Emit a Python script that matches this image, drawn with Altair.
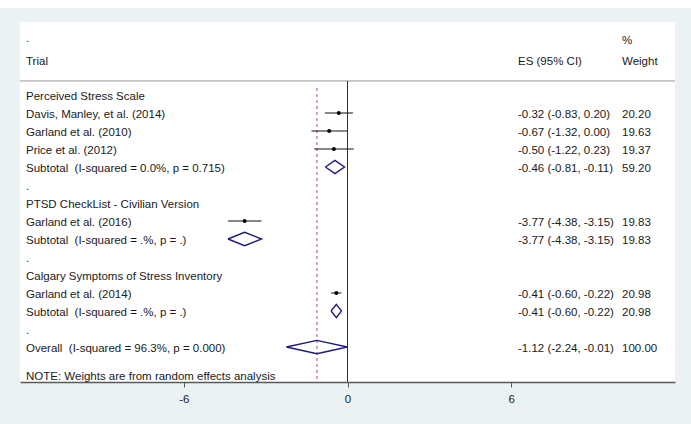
import altair as alt
import pandas as pd

NB = "\u00a0"
labels = [
    "Perceived Stress Scale",
    "Davis, Manley, et al. (2014)",
    "Garland et al. (2010)",
    "Price et al. (2012)",
    "Subtotal" + NB + " (I-squared = 0.0%, p = 0.715)",
    ".",
    "PTSD CheckList - Civilian Version",
    "Garland et al. (2016)",
    "Subtotal" + NB + " (I-squared = .%, p = .)",
    ".",
    "Calgary Symptoms of Stress Inventory",
    "Garland et al. (2014)",
    "Subtotal" + NB + " (I-squared = .%, p = .)",
    ".",
    "Overall" + NB + " (I-squared = 96.3%, p = 0.000)",
]
kinds = ["group", "study", "study", "study", "subtotal", "spacer",
         "group", "study", "subtotal", "spacer",
         "group", "study", "subtotal", "spacer", "overall"]
es = [None, -0.32, -0.67, -0.50, -0.46, None, None, -3.77, -3.77, None, None, -0.41, -0.41, None, -1.12]
lo = [None, -0.83, -1.32, -1.22, -0.81, None, None, -4.38, -4.38, None, None, -0.60, -0.60, None, -2.24]
hi = [None, 0.20, 0.00, 0.23, -0.11, None, None, -3.15, -3.15, None, None, -0.22, -0.22, None, -0.01]
weights = [None, 20.20, 19.63, 19.37, 59.20, None, None, 19.83, 19.83, None, None, 20.98, 20.98, None, 100.00]
tick_values = [-6, 0, 6]
note = "NOTE: Weights are from random effects analysis"

FONT = "Liberation Sans"
FS = 11.5
W, H = 655, 360

rows = []
for i, lab in enumerate(labels):
    e = es[i]
    rows.append({
        "row": i, "label": lab, "kind": kinds[i], "es": e, "lo": lo[i], "hi": hi[i],
        "es_txt": (f"{e:.2f} ({lo[i]:.2f}, {hi[i]:.2f})" if e is not None else ""),
        "w_txt": (f"{weights[i]:.2f}" if weights[i] is not None else ""),
    })
df = pd.DataFrame(rows)
studies = df[df.kind == "study"]
pooled = df[df.kind.isin(["subtotal", "overall"])]

dia = []
hh = 0.37
for _, r in pooled.iterrows():
    pts = [(r.lo, r.row), (r.es, r.row - hh), (r.hi, r.row), (r.es, r.row + hh), (r.lo, r.row)]
    for k, (x, y) in enumerate(pts):
        dia.append({"id": r.row, "ord": k, "x": x, "y": y})
dia = pd.DataFrame(dia)

yscale = alt.Scale(domain=[-4.056, 15.944], reverse=True, nice=False, zero=False)
xscale = alt.Scale(domain=[-12, 12], nice=False, zero=False)
X = lambda f: alt.X(f, type="quantitative", scale=xscale,
                    axis=alt.Axis(values=tick_values, grid=False, title=None, tickSize=5,
                                  domainColor="#5a5a5a", domainWidth=1.5, tickColor="#5a5a5a",
                                  labelFont=FONT, labelFontSize=FS, labelColor="#222",
                                  labelPadding=6, labelExpr="'' + datum.value"))
Y = lambda f: alt.Y(f, type="quantitative", scale=yscale, axis=None)

one = pd.DataFrame({"a": [0]})

top_white = alt.Chart(one).mark_rect(clip=False, color="white").encode(
    x=alt.value(-20), x2=alt.value(W + 16), y=alt.value(-22), y2=alt.value(-14))

hdr_line = alt.Chart(pd.DataFrame({"y": [-0.78]})).mark_rule(color="#999", strokeWidth=1).encode(
    x=alt.value(0), x2=alt.value(W), y=Y("y"))

zero_line = alt.Chart(pd.DataFrame({"x": [0], "y": [-0.78]})).mark_rule(color="#333", strokeWidth=1).encode(
    x=X("x"), y=Y("y"), y2=alt.value(H))

overall = df[df.kind == "overall"]
red_line = alt.Chart(overall).mark_rule(color="#b5475a", strokeWidth=1, strokeDash=[3, 3]).encode(
    x=X("es"), y=alt.value(88 - 22), y2=alt.value(H))

ci = alt.Chart(studies).mark_rule(color="#111", strokeWidth=1).encode(
    x=X("lo"), x2="hi", y=Y("row"))
pts = alt.Chart(studies).mark_circle(color="#000", size=16, opacity=1).encode(
    x=X("es"), y=Y("row"))

diamonds = alt.Chart(dia).mark_line(color="#1c1c7a", strokeWidth=1.4).encode(
    x=X("x"), y=Y("y"), detail="id:N", order="ord:Q")

txt = dict(font=FONT, fontSize=FS, color="#1a1a1a", baseline="middle", align="left", dy=1.5)
lab_txt = alt.Chart(df).mark_text(**txt).encode(x=alt.value(6), y=Y("row"), text="label:N")
es_txt = alt.Chart(df).mark_text(**txt).encode(x=alt.value(498), y=Y("row"), text="es_txt:N")
w_txt = alt.Chart(df).mark_text(**txt).encode(x=alt.value(602), y=Y("row"), text="w_txt:N")

hdr = pd.DataFrame({
    "t": [".", "Trial", "ES (95% CI)", "%", "Weight", note],
    "px": [6, 6, 498, 602, 602, 6],
    "y": [-3.17, -1.94, -1.94, -3.06, -1.94, 15.6],
})
hdr_txt = alt.Chart(hdr).mark_text(**txt).encode(x=alt.X("px:Q", scale=None), y=Y("y"), text="t:N")

chart = alt.layer(top_white, hdr_line, zero_line, red_line, ci, pts, diamonds,
                  lab_txt, es_txt, w_txt, hdr_txt).properties(
    width=W, height=H,
    autosize=alt.AutoSizeParams(type="none"),
    padding={"left": 20, "top": 22, "right": 16, "bottom": 42},
    background="#eaf2f3",
).configure_view(fill="white", stroke=None)

chart.save("out.html", embed_options={"renderer": "svg", "actions": False})
